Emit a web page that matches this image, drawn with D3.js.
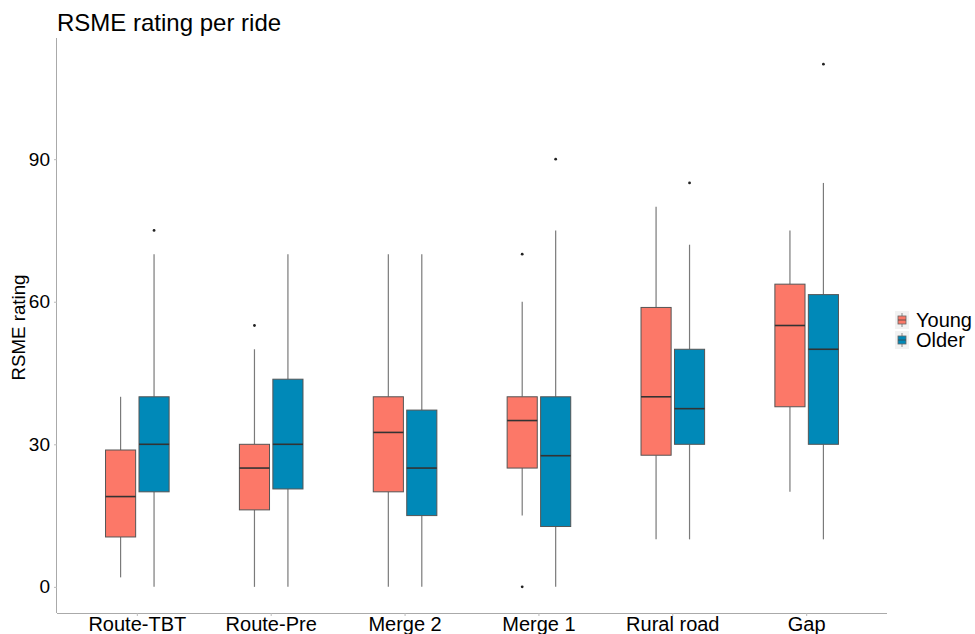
<!DOCTYPE html>
<html><head><meta charset="utf-8">
<script src="https://cdn.jsdelivr.net/npm/d3@7"></script>
<style>body{margin:0;background:#fff}svg{display:block;font-family:"Liberation Sans",Arial,sans-serif}</style>
</head><body><svg id="c" width="975" height="634"></svg>
<script>
const categories = ["Route-TBT","Route-Pre","Merge 2","Merge 1","Rural road","Gap"];
const groups = ["Young","Older"];
const colors = ["#FC7868","#0089B8"];
// [whiskerLow, q1, median, q3, whiskerHigh]
const youngStats = [
  [2, 10.5, 19, 28.8, 40],
  [0, 16.2, 25, 30, 50],
  [0, 20, 32.5, 40, 70],
  [15, 25, 35, 40, 60],
  [10, 27.7, 40, 58.8, 80],
  [20, 37.9, 55, 63.7, 75]
];
const olderStats = [
  [0, 20, 30, 40, 70],
  [0, 20.6, 30, 43.7, 70],
  [0, 15, 25, 37.2, 70],
  [0, 12.7, 27.6, 40, 75],
  [10, 30, 37.5, 50, 72],
  [10, 30, 50, 61.5, 85]
];
const youngOutliers = [[],[55],[],[0,70],[],[]];
const olderOutliers = [[75],[],[],[90],[85],[110]];
const yTicks = [0,30,60,90];

const svg = d3.select("#c");
const L=57, R=887, T=38, B=613;
const x = d3.scaleBand().domain(categories).range([L,R]).paddingOuter(0.1).paddingInner(0);
const step = x.step();
const y = d3.scaleLinear().domain([-5.5,115.5]).range([B,T]);

// axes
const gx = svg.append("g").attr("transform",`translate(0,${B})`).call(d3.axisBottom(x).tickSize(3).tickPadding(1));
gx.select(".domain").attr("stroke","#aaa").attr("d",`M${L},0.5H${R}`);
gx.selectAll(".tick line").attr("stroke","#bbb");
gx.selectAll(".tick text").attr("font-size",20).attr("fill","#000").attr("font-family","Liberation Sans, Arial, sans-serif");
const gy = svg.append("g").attr("transform",`translate(${L},0)`).call(d3.axisLeft(y).tickValues(yTicks).tickSize(3).tickPadding(4));
gy.select(".domain").attr("stroke","#aaa").attr("d",`M-0.5,${T}V${B}`);
gy.selectAll(".tick line").attr("stroke","#bbb");
gy.selectAll(".tick text").attr("font-size",19).attr("fill","#000").attr("font-family","Liberation Sans, Arial, sans-serif");

svg.append("text").attr("x",57).attr("y",31).attr("font-size",24).attr("fill","#000").text("RSME rating per ride");
svg.append("text").attr("transform",`translate(25,${(T+B)/2+2}) rotate(-90)`).attr("text-anchor","middle")
  .attr("font-size",18.7).attr("fill","#000").text("RSME rating");

const bw = step*0.225;
const stats = [youngStats, olderStats];
const outs = [youngOutliers, olderOutliers];
groups.forEach((g,gi)=>{
  categories.forEach((c,ci)=>{
    const s = stats[gi][ci];
    const cx = x(c) + step/2 + (gi===0?-1:1)*step*0.125;
    const G = svg.append("g");
    G.append("line").attr("x1",cx).attr("x2",cx).attr("y1",y(s[0])).attr("y2",y(s[1])).attr("stroke","#7a7a7a").attr("stroke-width",1.2);
    G.append("line").attr("x1",cx).attr("x2",cx).attr("y1",y(s[3])).attr("y2",y(s[4])).attr("stroke","#7a7a7a").attr("stroke-width",1.2);
    G.append("rect").attr("x",cx-bw/2).attr("width",bw).attr("y",y(s[3])).attr("height",y(s[1])-y(s[3]))
      .attr("fill",colors[gi]).attr("stroke","#555").attr("stroke-width",1);
    G.append("line").attr("x1",cx-bw/2).attr("x2",cx+bw/2).attr("y1",y(s[2])).attr("y2",y(s[2])).attr("stroke","#333").attr("stroke-width",1.6);
    outs[gi][ci].forEach(v=>{
      G.append("circle").attr("cx",cx).attr("cy",y(v)).attr("r",1.4).attr("fill","#222");
    });
  });
});

// legend
const lg = svg.append("g");
groups.forEach((g,gi)=>{
  const ky = 311 + gi*20;
  lg.append("rect").attr("x",895).attr("y",ky).attr("width",14).attr("height",18).attr("fill","#f2f2f2");
  lg.append("line").attr("x1",902).attr("x2",902).attr("y1",ky+2).attr("y2",ky+16).attr("stroke","#888");
  lg.append("rect").attr("x",898).attr("y",ky+5).attr("width",8).attr("height",8).attr("fill",colors[gi]).attr("stroke","#666").attr("stroke-width",0.8);
  lg.append("line").attr("x1",898).attr("x2",906).attr("y1",ky+9).attr("y2",ky+9).attr("stroke","#444").attr("stroke-width",0.8);
  lg.append("text").attr("x",916).attr("y",ky+16).attr("font-size",20).attr("fill","#000").text(g);
});
</script></body></html>
